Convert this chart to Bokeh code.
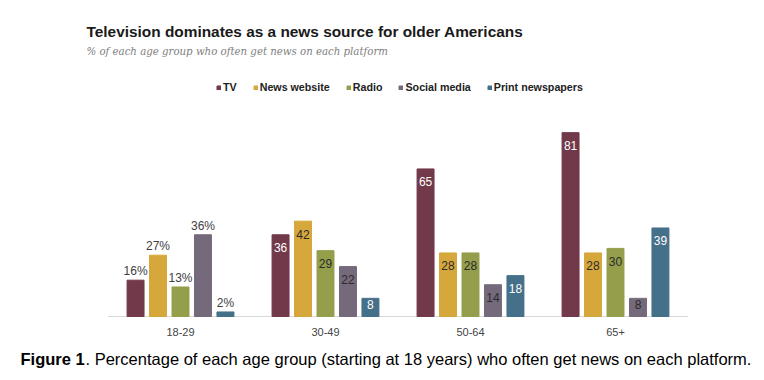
from bokeh.plotting import figure
from bokeh.models import ColumnDataSource, Label, Legend, LegendItem, Range1d, CDSView, IndexFilter
from bokeh.transform import dodge
from bokeh.core.properties import value
from bokeh.embed import file_html
from bokeh.resources import INLINE

ages = ["18-29", "30-49", "50-64", "65+"]
platforms = ["TV", "News website", "Radio", "Social media", "Print newspapers"]
tv = [16, 36, 65, 81]
news_website = [27, 42, 28, 28]
radio = [13, 29, 28, 30]
social_media = [36, 22, 14, 8]
print_newspapers = [2, 8, 18, 39]
series = [tv, news_website, radio, social_media, print_newspapers]
colors = ["#71394A", "#D6A73A", "#949E4B", "#756A7C", "#45708A"]
inside_text_colors = ["#FFFFFF", "#2B2B2B", "#2B2B2B", "#2B2B2B", "#FFFFFF"]
offsets = [-0.31, -0.155, 0.0, 0.155, 0.31]

W, H = 764, 380
px_per_unit = 2.27
base_y = 316          # baseline, px from top
group_px = 145
first_center = 180

pos = list(range(len(ages)))
p = figure(width=W, height=H,
           x_range=Range1d(-first_center / group_px, (W - first_center) / group_px),
           y_range=Range1d(-(H - base_y) / px_per_unit, base_y / px_per_unit),
           output_backend="svg", toolbar_location=None,
           min_border=0, min_border_left=0, min_border_right=0,
           min_border_top=0, min_border_bottom=0)
p.outline_line_color = None
p.grid.visible = False
p.axis.visible = False

# baseline (category axis line)
p.segment(x0=[pos[0] - 0.5], x1=[pos[-1] + 0.5], y0=[0], y1=[0],
          line_color="#D9D9D9", line_width=1)

items = []
for name, vals, col, off in zip(platforms, series, colors, offsets):
    src = ColumnDataSource(dict(x=pos, val=vals))
    r = p.vbar(x=dodge("x", off), top="val", width=0.117, source=src,
               fill_color=col, line_color=col)
    items.append(LegendItem(label=name, renderers=[r]))

# category tick labels
p.text(x=pos, y=[0] * len(pos), text=ages, y_offset=15,
       text_align="center", text_baseline="middle", text_color="#444444",
       text_font=value("Liberation Sans"), text_font_size="11px")

# value labels
lx, ly, lt, lc, lo, ly_off = [], [], [], [], [], []
for si, (vals, off) in enumerate(zip(series, offsets)):
    for gi, v in enumerate(vals):
        lx.append(pos[gi])
        ly.append(v)
        lo.append(off)
        if gi == 0:
            lt.append(f"{v}%")
            lc.append("#404040")
            ly_off.append(-9)
        else:
            lt.append(f"{v}")
            lc.append(inside_text_colors[si])
            ly_off.append(min(13, v * px_per_unit / 2 - 3))
lsrc = ColumnDataSource(dict(x=lx, val=ly, txt=lt, col=lc, yoff=ly_off))
for off in offsets:
    idx = [i for i, o in enumerate(lo) if o == off]
    p.text(x=dodge("x", off), y="val", text="txt", source=lsrc,
           view=CDSView(filter=IndexFilter(idx)),
           text_color="col", text_align="center", text_baseline="middle",
           y_offset="yoff", text_font_size="12px", text_font=value("Liberation Sans"))

legend = Legend(items=items, orientation="horizontal", location=(216, H - 93),
                label_text_font="Liberation Sans", label_text_font_style="bold",
                label_text_font_size="10.7px", label_text_color="#222222",
                glyph_width=5, glyph_height=5, label_standoff=2, spacing=16,
                padding=0, margin=0, border_line_color=None, background_fill_alpha=0,
                label_height=10, label_width=0)
p.add_layout(legend, "center")

title = Label(x=86, y=H - 31, x_units="screen", y_units="screen",
              text="Television dominates as a news source for older Americans",
              text_font="Liberation Sans", text_font_style="bold", text_font_size="15.4px",
              text_color="#1A1A1A", text_baseline="middle")
subtitle = Label(x=86, y=H - 51, x_units="screen", y_units="screen",
                 text="% of each age group who often get news on each platform",
                 text_font="DejaVu Serif", text_font_style="italic", text_font_size="10.2px",
                 text_color="#808080", text_baseline="middle")
cap1 = Label(x=20, y=H - 358, x_units="screen", y_units="screen", text="Figure 1",
             text_font="Liberation Sans", text_font_style="bold", text_font_size="16.5px",
             text_color="#000000", text_baseline="middle")
cap2 = Label(x=85, y=H - 358, x_units="screen", y_units="screen",
             text=". Percentage of each age group (starting at 18 years) who often get news on each platform.",
             text_font="Liberation Sans", text_font_size="16.5px",
             text_color="#000000", text_baseline="middle")
for lab in (title, subtitle, cap1, cap2):
    p.add_layout(lab)

open("out.html", "w").write(file_html(p, INLINE))
